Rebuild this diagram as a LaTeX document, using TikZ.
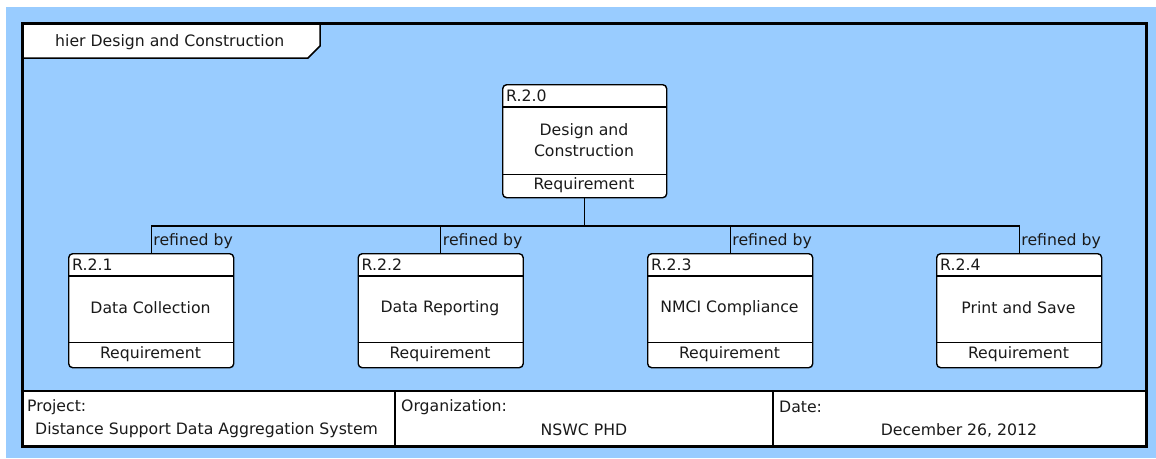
\documentclass[tikz,border=0pt]{standalone}
\usepackage{fontspec}
\setmainfont{DejaVu Sans}
\definecolor{sheet}{HTML}{99CCFF}
\definecolor{ink}{HTML}{1A1A1A}
\tikzset{
  frame/.style={draw=black, line width=3pt},
  cell/.style={draw=black, fill=white, line width=2pt},
  req/.style={draw=black, fill=white, line width=1.4pt, rounded corners=4pt,
              minimum width=165pt, minimum height=114pt, inner sep=0pt, anchor=north west},
  sep/.style={draw=black, line width=1.2pt},
  link/.style={draw=black, line width=1.4pt},
  lbl/.style={inner sep=2pt, text=ink}
}
% requirement block: name, left x, top y, id, title
\newcommand\reqbox[5]{%
  \node[req] (#1) at (#2,#3) {};
  \draw[sep] ([yshift=-23pt]#1.north west) -- ([yshift=-23pt]#1.north east);
  \draw[sep] ([yshift=26pt]#1.south west) -- ([yshift=26pt]#1.south east);
  \node[lbl, anchor=west] (#1-id) at (#2+2,#3+11.5) {#4};
  \node[lbl, align=center] (#1-title) at (#2+82.5,#3+55) {#5};
  \node[lbl] (#1-kind) at (#2+82.5,#3+101) {Requirement};
}
\begin{document}
\begin{tikzpicture}[x=1pt, y=-1pt, font=\fontsize{15.7}{21}\selectfont]
  % canvas
  \useasboundingbox (0,0) rectangle (1156,458);
  \fill[white] (0,0) rectangle (1156,458);
  \fill[sheet] (6,7) rectangle (1156,458);

  % diagram name tab
  \draw[fill=white, line width=1.5pt] (23,24) -- (320,24) -- (320,46) -- (308,58) -- (23,58) -- cycle;
  \node[lbl, anchor=west] (tabname) at (53,42) {hier Design and Construction};

  % parent requirement
  \node[req, minimum width=164pt, minimum height=113pt] (top) at (502,84) {};
  \draw[sep] ([yshift=-23pt]top.north west) -- ([yshift=-23pt]top.north east);
  \draw[sep] ([yshift=24pt]top.south west) -- ([yshift=24pt]top.south east);
  \node[lbl, anchor=west] (top-id) at (504,96) {R.2.0};
  \node[lbl, align=center] (top-title) at (584,140.5) {Design and\\Construction};
  \node[lbl] (top-kind) at (584,185) {Requirement};

  % child requirements
  \reqbox{c1}{68}{253}{R.2.1}{Data Collection}
  \reqbox{c2}{357.5}{253}{R.2.2}{Data Reporting}
  \reqbox{c3}{647}{253}{R.2.3}{NMCI Compliance}
  \reqbox{c4}{936}{253}{R.2.4}{Print and Save}

  % refinement links
  \coordinate (bus) at (584.5,226);
  \draw[link] (top.south) -- (top.south |- bus);
  \draw[link] (c1.north) -- (c1.north |- bus) -- (c4.north |- bus) -- (c4.north);
  \draw[link] (c2.north) -- (c2.north |- bus);
  \draw[link] (c3.north) -- (c3.north |- bus);
  \foreach \c in {c1,c2,c3,c4}
    \node[lbl, anchor=south west] (\c-rel) at ([yshift=2pt]\c.north) {refined by};

  % title block
  \draw[cell] (23,391) rectangle (395,446);
  \draw[cell] (395,391) rectangle (773,446);
  \draw[cell] (773,391) rectangle (1146,446);
  \node[lbl, anchor=west] (proj-h) at (25,407) {Project:};
  \node[lbl, anchor=west] (proj-v) at (33,430) {Distance Support Data Aggregation System};
  \node[lbl, anchor=west] (org-h) at (399,407) {Organization:};
  \node[lbl] (org-v) at (584,430) {NSWC PHD};
  \node[lbl, anchor=west] (date-h) at (777,407) {Date:};
  \node[lbl] (date-v) at (959,430) {December 26, 2012};

  % outer frame
  \draw[frame] (22.5,23.5) rectangle (1146.5,446.5);
\end{tikzpicture}
\end{document}
